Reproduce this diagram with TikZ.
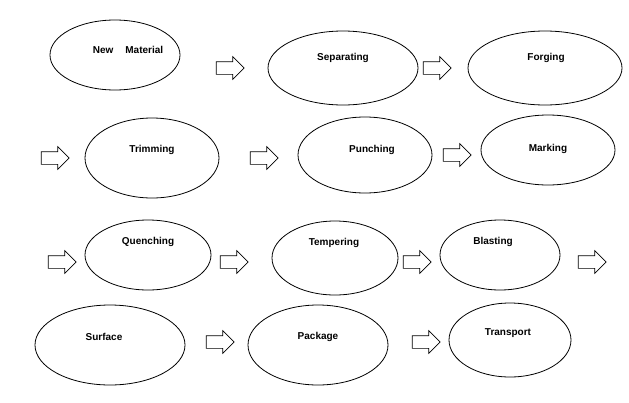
\documentclass[tikz,border=0pt]{standalone}
\usepackage{fontspec}
\setmainfont{Liberation Sans}
\usetikzlibrary{shapes.geometric,shapes.arrows}
\begin{document}
\begin{tikzpicture}[x=1pt,y=-1pt,
  ell/.style={draw,ellipse,line width=0.8pt,inner sep=0pt},
  lbl/.style={font=\bfseries\fontsize{10}{12}\selectfont},
  blk/.style={draw,single arrow,line width=0.7pt,inner sep=6pt,minimum height=28pt,single arrow head extend=5pt}]
\useasboundingbox (0,0) rectangle (629,402);
\def\E#1#2#3#4#5#6#7#8{\node[ell,minimum width=#4pt,minimum height=#5pt] (#1) at (#2,#3) {};
  \node[lbl] (#1t) at (#6,#7) {#8};}
\E{a}{115}{55}{130}{70}{128}{50}{New\hspace{1.2em}Material}
\E{b}{343}{68}{150}{74}{343}{58}{Separating}
\E{c}{545}{68}{154}{74}{546}{58}{Forging}
\E{d}{152}{158}{134}{80}{152}{150}{Trimming}
\E{e}{365}{155}{134}{76}{372}{150}{Punching}
\E{f}{548}{150}{134}{70}{548}{149}{Marking}
\E{g}{148}{255}{126}{70}{148}{242}{Quenching}
\E{h}{335}{258}{126}{74}{334}{243}{Tempering}
\E{i}{500}{255}{120}{70}{493}{242}{Blasting}
\E{j}{110}{345}{150}{80}{104}{337}{Surface}
\E{k}{318}{345}{140}{80}{318}{337}{Package}
\E{l}{510}{340}{122}{74}{508}{333}{Transport}
\node[blk] (r1) at (227,68) {};
\node[blk] (r2) at (434,68) {};
\node[blk] (r3) at (52,158) {};
\node[blk] (r4) at (261,158) {};
\node[blk] (r5) at (454,155) {};
\node[blk] (r6) at (59,262) {};
\node[blk] (r7) at (231,262) {};
\node[blk] (r8) at (414,262) {};
\node[blk] (r9) at (589,262) {};
\node[blk] (r10) at (217,342) {};
\node[blk] (r11) at (423,342) {};
\end{tikzpicture}
\end{document}
